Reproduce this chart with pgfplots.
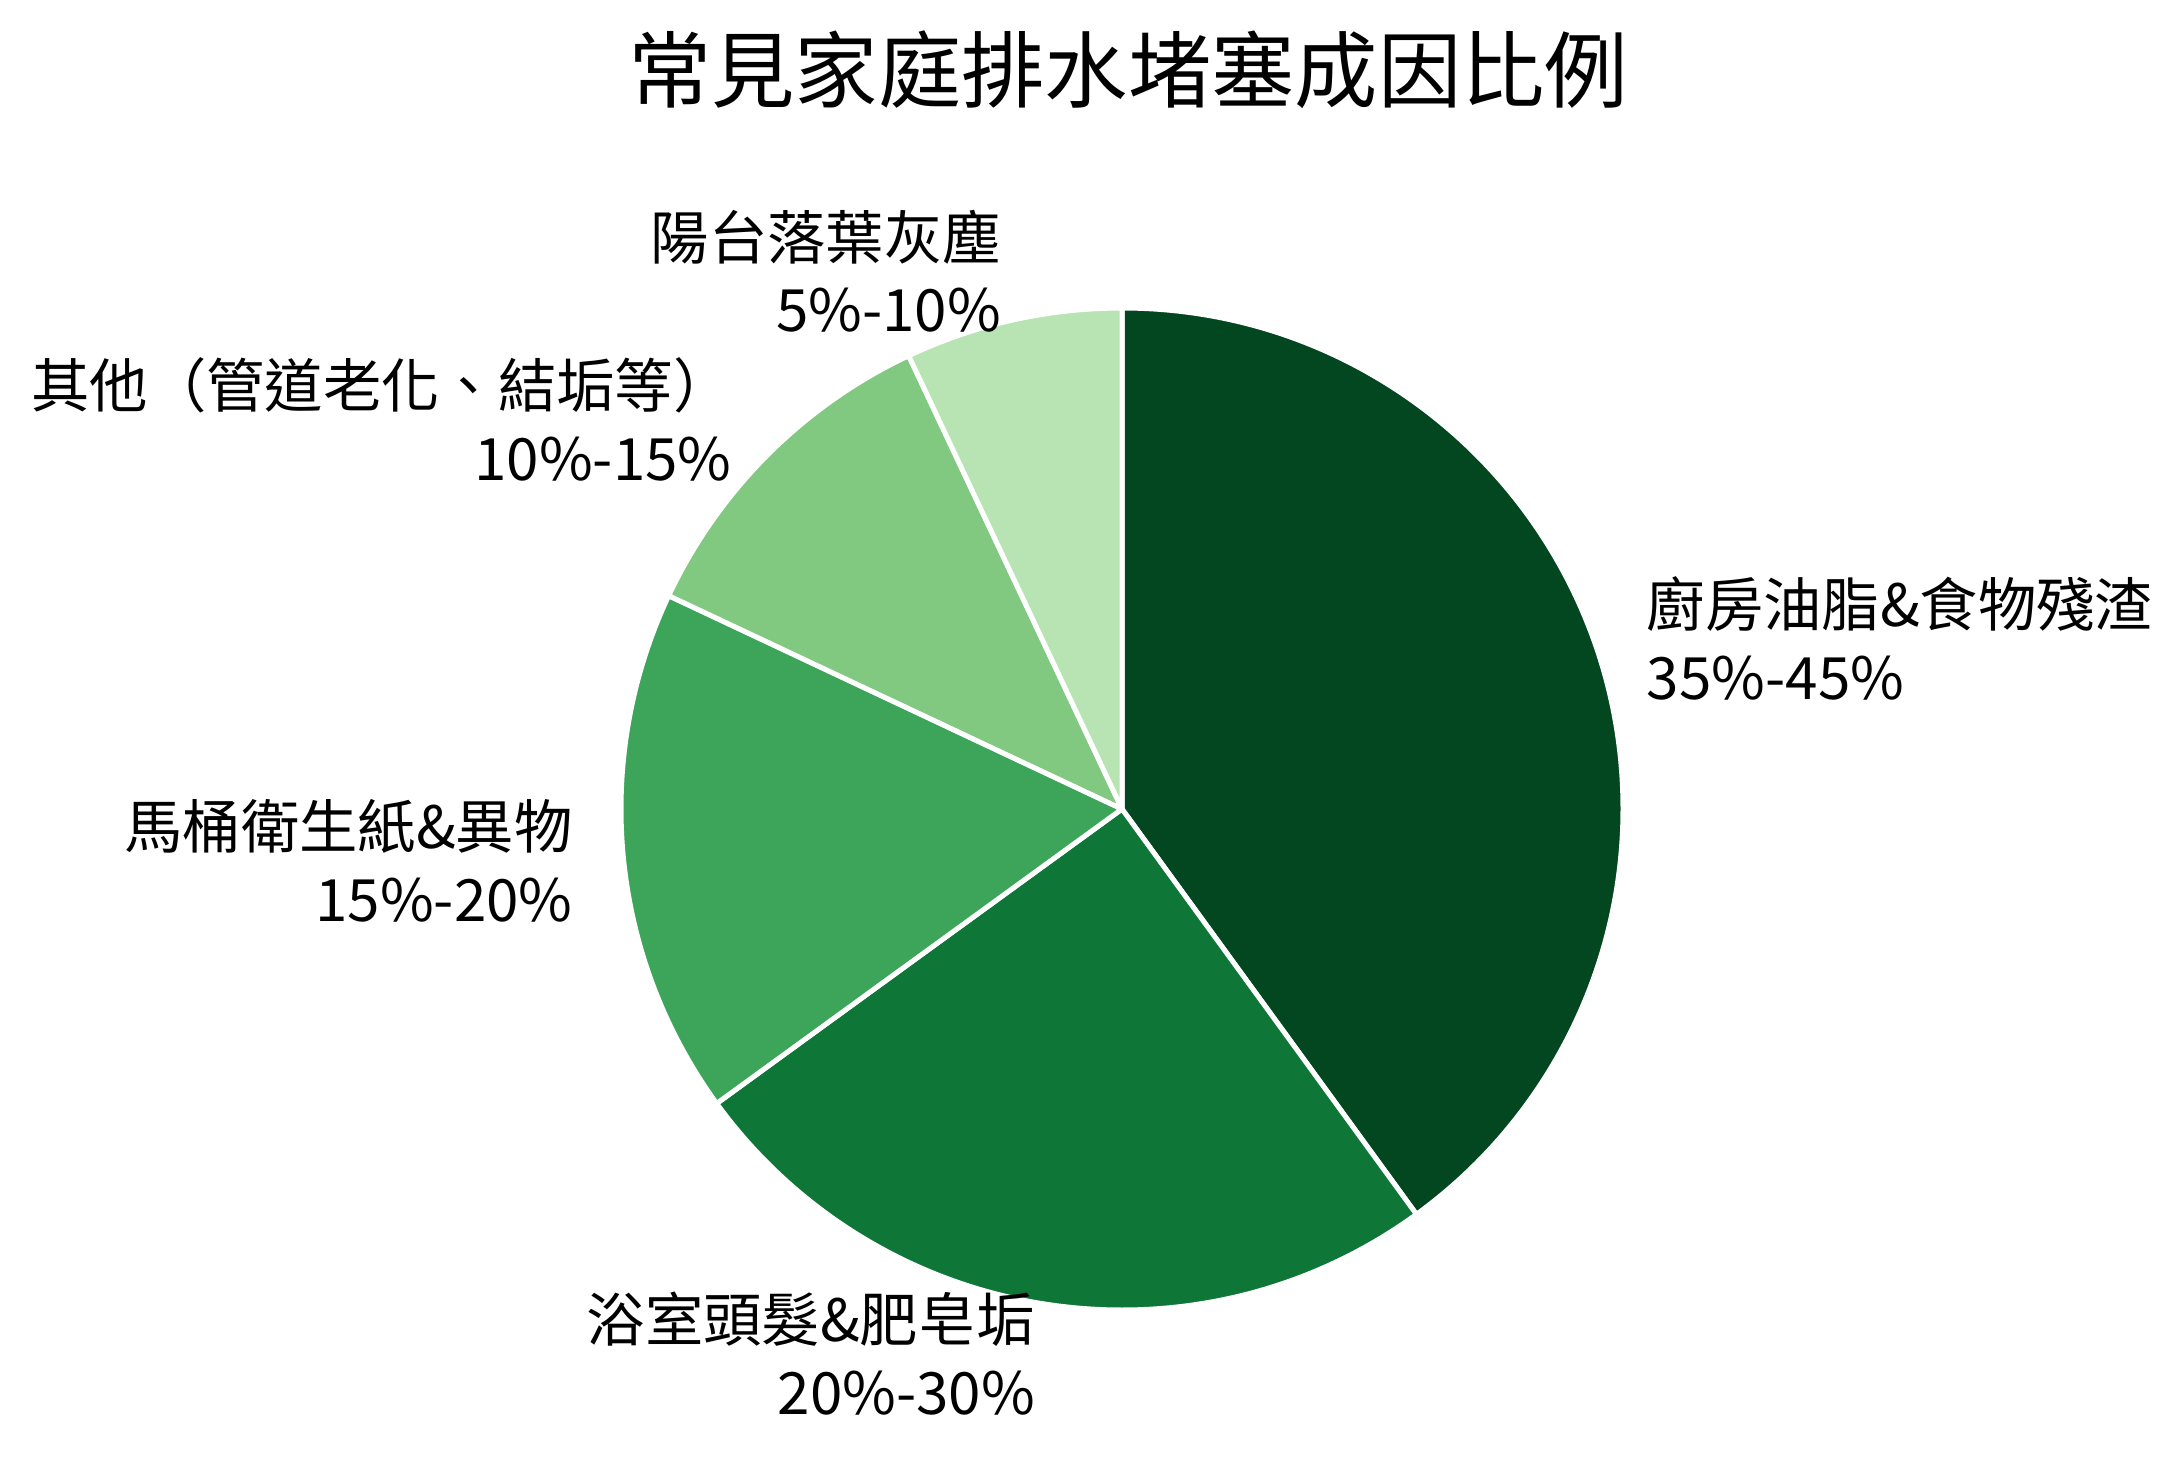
\documentclass[border=0pt]{standalone}
\usepackage{pgfplots}
\usepackage{pgfplotstable}
\pgfplotsset{compat=1.18}
\usepackage{fontspec}
\setmainfont{Noto Sans CJK TC}

\definecolor{slice0}{HTML}{02471F}
\definecolor{slice1}{HTML}{0E7636}
\definecolor{slice2}{HTML}{3DA55A}
\definecolor{slice3}{HTML}{81C880}
\definecolor{slice4}{HTML}{B8E3B2}

% share of each cause, clockwise from 12 o'clock
\pgfplotstableread{
value
40
25
17
11
7
}\piedata

\begin{document}
\begin{tikzpicture}
\begin{axis}[
    hide axis,
    clip=false,
    x=120.24pt, y=120.24pt,
    xmin=-2.2395, xmax=2.1198,
    ymin=-1.3154, ymax=1.6148,
]
\xdef\cur{90}
\pgfplotsinvokeforeach{0,...,4}{
  \pgfplotstablegetelem{#1}{value}\of\piedata
  \pgfmathsetmacro\nxt{\cur-3.6*\pgfplotsretval}
  \pgfmathsetmacro\mid{(\cur+\nxt)/2}
  \expandafter\xdef\csname mid#1\endcsname{\mid}
  \edef\temp{\noexpand\fill[fill=slice#1, draw=white, line width=1.2pt, line join=round]
    (axis cs:0,0) -- (axis cs:{cos(\cur)},{sin(\cur)})
    arc[start angle=\cur, end angle=\nxt, radius=120.24pt] -- cycle;}
  \temp
  \xdef\cur{\nxt}
}

\tikzset{lbl/.style={inner sep=0pt, font=\fontsize{14}{17.5}\selectfont}}
\node[lbl, anchor=west, align=left] at (axis cs:{1.1*cos(\csname mid0\endcsname)},{1.1*sin(\csname mid0\endcsname)})
  {廚房油脂\&食物殘渣\\35\%-45\%};
\node[lbl, anchor=east, align=right] at (axis cs:{1.1*cos(\csname mid1\endcsname)},{1.1*sin(\csname mid1\endcsname)})
  {浴室頭髮\&肥皂垢\\20\%-30\%};
\node[lbl, anchor=east, align=right] at (axis cs:{1.1*cos(\csname mid2\endcsname)},{1.1*sin(\csname mid2\endcsname)})
  {馬桶衛生紙\&異物\\15\%-20\%};
\node[lbl, anchor=east, align=right] at (axis cs:{1.1*cos(\csname mid3\endcsname)},{1.1*sin(\csname mid3\endcsname)})
  {其他（管道老化、結垢等）\\10\%-15\%};
\node[lbl, anchor=east, align=right] at (axis cs:{1.1*cos(\csname mid4\endcsname)},{1.1*sin(\csname mid4\endcsname)})
  {陽台落葉灰塵\\5\%-10\%};

\node[font=\fontsize{20}{24}\selectfont, inner sep=0pt] at (axis cs:0.012,1.475) {常見家庭排水堵塞成因比例};

\coordinate (bbsw) at (axis cs:-2.2395,-1.3154);
\coordinate (bbne) at (axis cs:2.1198,1.6148);
\end{axis}
\pgfresetboundingbox
\useasboundingbox (bbsw) rectangle (bbne);
\end{tikzpicture}
\end{document}
